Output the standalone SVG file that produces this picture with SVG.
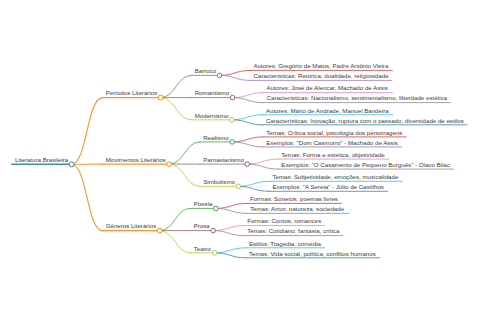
<svg xmlns="http://www.w3.org/2000/svg" width="480" height="320" viewBox="0 0 480 320">
<style>
.t{font-family:"Liberation Sans",Arial,sans-serif;font-size:6.15px;fill:#3c3c3c}
path,line{fill:none;stroke-width:0.85;stroke-linecap:round;stroke-opacity:0.85}
circle{fill:#fff;stroke-width:0.9}
.l1{stroke-width:1.1}
.root{stroke-width:1.5}
.b{stroke:#1f77b4}.o{stroke:#ff7f0e}.g{stroke:#2ca02c}.r{stroke:#d62728}.p{stroke:#9467bd}
.br{stroke:#8c564b}.pk{stroke:#e377c2}.gy{stroke:#7f7f7f}.ol{stroke:#bcbd22}.cy{stroke:#17becf}
</style>
<rect width="480" height="320" fill="#fff"/>
<g id="connectors">
<path class="o l1" d="M71.6,164.3 C87,164.3 87,97.6 102.4,97.6"/>
<path class="o l1" d="M71.6,164.3 C87,164.3 87,164.1 102.4,164.1"/>
<path class="o l1" d="M71.6,164.3 C87,164.3 87,230.6 102.4,230.6"/>
<path class="g" d="M160.6,97.6 C176,97.6 176,75.4 191.4,75.4"/>
<path class="br" d="M160.6,97.6 L191.4,97.6"/>
<path class="ol" d="M160.6,97.6 C176,97.6 176,119.8 191.4,119.8"/>
<path class="g" d="M169.1,164.1 C184.5,164.1 184.5,141.9 199.9,141.9"/>
<path class="br" d="M169.1,164.1 L199.9,164.1"/>
<path class="ol" d="M169.1,164.1 C184.5,164.1 184.5,186.3 199.9,186.3"/>
<path class="g" d="M159.6,230.6 C175,230.6 175,208.4 190.4,208.4"/>
<path class="br" d="M159.6,230.6 L190.4,230.6"/>
<path class="ol" d="M159.6,230.6 C175,230.6 175,252.8 190.4,252.8"/>
<path class="r" d="M219.5,75.4 C234.9,75.4 234.9,70.4 250.3,70.4"/>
<path class="p" d="M219.5,75.4 C234.9,75.4 234.9,80.4 250.3,80.4"/>
<path class="pk" d="M232.5,97.6 C247.9,97.6 247.9,92.6 263.3,92.6"/>
<path class="gy" d="M232.5,97.6 C247.9,97.6 247.9,102.6 263.3,102.6"/>
<path class="cy" d="M231.8,119.8 C247.2,119.8 247.2,114.8 262.6,114.8"/>
<path class="b" d="M231.8,119.8 C247.2,119.8 247.2,124.8 262.6,124.8"/>
<path class="r" d="M232.1,141.9 C247.5,141.9 247.5,136.9 262.9,136.9"/>
<path class="p" d="M232.1,141.9 C247.5,141.9 247.5,146.9 262.9,146.9"/>
<path class="pk" d="M247.2,164.1 C262.6,164.1 262.6,159.1 278,159.1"/>
<path class="gy" d="M247.2,164.1 C262.6,164.1 262.6,169.1 278,169.1"/>
<path class="cy" d="M238.3,186.3 C253.7,186.3 253.7,181.3 269.1,181.3"/>
<path class="b" d="M238.3,186.3 C253.7,186.3 253.7,191.3 269.1,191.3"/>
<path class="r" d="M215.8,208.4 C231.2,208.4 231.2,203.4 246.6,203.4"/>
<path class="p" d="M215.8,208.4 C231.2,208.4 231.2,213.4 246.6,213.4"/>
<path class="pk" d="M213.1,230.6 C228.5,230.6 228.5,225.6 243.9,225.6"/>
<path class="gy" d="M213.1,230.6 C228.5,230.6 228.5,235.6 243.9,235.6"/>
<path class="cy" d="M214.8,252.8 C230.2,252.8 230.2,247.8 245.6,247.8"/>
<path class="b" d="M214.8,252.8 C230.2,252.8 230.2,257.8 245.6,257.8"/>
</g>
<g id="n-root"><line class="b root" x1="11.7" y1="164.3" x2="71.6" y2="164.3"/><circle class="b" cx="71.6" cy="164.3" r="2.5"/><text class="t" x="15" y="162">Literatura Brasileira</text></g>
<g id="n-periodos"><line class="o l1" x1="102.4" y1="97.6" x2="160.6" y2="97.6"/><circle class="o" cx="160.6" cy="97.6" r="2.4"/><text class="t" x="105.7" y="95.3">Períodos Literários</text></g>
<g id="n-movimentos"><line class="o l1" x1="102.4" y1="164.1" x2="169.1" y2="164.1"/><circle class="o" cx="169.1" cy="164.1" r="2.4"/><text class="t" x="105.7" y="161.8">Movimentos Literários</text></g>
<g id="n-generos"><line class="o l1" x1="102.4" y1="230.6" x2="159.6" y2="230.6"/><circle class="o" cx="159.6" cy="230.6" r="2.4"/><text class="t" x="105.7" y="228.3">Gêneros Literários</text></g>
<g id="n-barroco"><line class="g" x1="191.4" y1="75.4" x2="219.5" y2="75.4"/><circle class="g" cx="219.5" cy="75.4" r="2.3"/><text class="t" x="194.7" y="73.1">Barroco</text></g>
<g id="n-romantismo"><line class="br" x1="191.4" y1="97.6" x2="232.5" y2="97.6"/><circle class="br" cx="232.5" cy="97.6" r="2.3"/><text class="t" x="194.7" y="95.3">Romantismo</text></g>
<g id="n-modernismo"><line class="ol" x1="191.4" y1="119.8" x2="231.8" y2="119.8"/><circle class="ol" cx="231.8" cy="119.8" r="2.3"/><text class="t" x="194.7" y="117.5">Modernismo</text></g>
<g id="n-realismo"><line class="g" x1="199.9" y1="141.9" x2="232.1" y2="141.9"/><circle class="g" cx="232.1" cy="141.9" r="2.3"/><text class="t" x="203.2" y="139.6">Realismo</text></g>
<g id="n-parnasianismo"><line class="br" x1="199.9" y1="164.1" x2="247.2" y2="164.1"/><circle class="br" cx="247.2" cy="164.1" r="2.3"/><text class="t" x="203.2" y="161.8">Parnasianismo</text></g>
<g id="n-simbolismo"><line class="ol" x1="199.9" y1="186.3" x2="238.3" y2="186.3"/><circle class="ol" cx="238.3" cy="186.3" r="2.3"/><text class="t" x="203.2" y="184">Simbolismo</text></g>
<g id="n-poesia"><line class="g" x1="190.4" y1="208.4" x2="215.8" y2="208.4"/><circle class="g" cx="215.8" cy="208.4" r="2.3"/><text class="t" x="193.7" y="206.1">Poesia</text></g>
<g id="n-prosa"><line class="br" x1="190.4" y1="230.6" x2="213.1" y2="230.6"/><circle class="br" cx="213.1" cy="230.6" r="2.3"/><text class="t" x="193.7" y="228.3">Prosa</text></g>
<g id="n-teatro"><line class="ol" x1="190.4" y1="252.8" x2="214.8" y2="252.8"/><circle class="ol" cx="214.8" cy="252.8" r="2.3"/><text class="t" x="193.7" y="250.5">Teatro</text></g>
<g id="n-barroco-autores"><line class="r" x1="250.3" y1="70.4" x2="392.3" y2="70.4"/><text class="t" x="253.6" y="68.1">Autores: Gregório de Matos, Padre Antônio Vieira</text></g>
<g id="n-barroco-caract"><line class="p" x1="250.3" y1="80.4" x2="391.9" y2="80.4"/><text class="t" x="253.6" y="78.1">Características: Retórica, dualidade, religiosidade</text></g>
<g id="n-romantismo-autores"><line class="pk" x1="263.3" y1="92.6" x2="392.3" y2="92.6"/><text class="t" x="266.6" y="90.3">Autores: José de Alencar, Machado de Assis</text></g>
<g id="n-romantismo-caract"><line class="gy" x1="263.3" y1="102.6" x2="450.4" y2="102.6"/><text class="t" x="266.6" y="100.3">Características: Nacionalismo, sentimentalismo, liberdade estética</text></g>
<g id="n-modernismo-autores"><line class="cy" x1="262.6" y1="114.8" x2="392.6" y2="114.8"/><text class="t" x="265.9" y="112.5">Autores: Mário de Andrade, Manuel Bandeira</text></g>
<g id="n-modernismo-caract"><line class="b" x1="262.6" y1="124.8" x2="467.1" y2="124.8"/><text class="t" x="265.9" y="122.5">Características: Inovação, ruptura com o passado, diversidade de estilos</text></g>
<g id="n-realismo-temas"><line class="r" x1="262.9" y1="136.9" x2="406.2" y2="136.9"/><text class="t" x="266.2" y="134.6">Temas: Crítica social, psicologia dos personagens</text></g>
<g id="n-realismo-exemplos"><line class="p" x1="262.9" y1="146.9" x2="401.7" y2="146.9"/><text class="t" x="266.2" y="144.6">Exemplos: "Dom Casmurro" - Machado de Assis</text></g>
<g id="n-parnasianismo-temas"><line class="pk" x1="278" y1="159.1" x2="388.8" y2="159.1"/><text class="t" x="281.3" y="156.8">Temas: Forma e estética, objetividade</text></g>
<g id="n-parnasianismo-exemplos"><line class="gy" x1="278" y1="169.1" x2="453.4" y2="169.1"/><text class="t" x="281.3" y="166.8">Exemplos: "O Casamento de Pequeno Burguês" - Olavo Bilac</text></g>
<g id="n-simbolismo-temas"><line class="cy" x1="269.1" y1="181.3" x2="402.5" y2="181.3"/><text class="t" x="272.4" y="179">Temas: Subjetividade, emoções, musicalidade</text></g>
<g id="n-simbolismo-exemplos"><line class="b" x1="269.1" y1="191.3" x2="387.7" y2="191.3"/><text class="t" x="272.4" y="189">Exemplos: "A Sereia" - Júlio de Castilhos</text></g>
<g id="n-poesia-formas"><line class="r" x1="246.6" y1="203.4" x2="341.4" y2="203.4"/><text class="t" x="249.9" y="201.1">Formas: Sonetos, poemas livres</text></g>
<g id="n-poesia-temas"><line class="p" x1="246.6" y1="213.4" x2="348.9" y2="213.4"/><text class="t" x="249.9" y="211.1">Temas: Amor, natureza, sociedade</text></g>
<g id="n-prosa-formas"><line class="pk" x1="243.9" y1="225.6" x2="324.7" y2="225.6"/><text class="t" x="247.2" y="223.3">Formas: Contos, romances</text></g>
<g id="n-prosa-temas"><line class="gy" x1="243.9" y1="235.6" x2="343.1" y2="235.6"/><text class="t" x="247.2" y="233.3">Temas: Cotidiano, fantasia, crítica</text></g>
<g id="n-teatro-estilos"><line class="cy" x1="245.6" y1="247.8" x2="324.7" y2="247.8"/><text class="t" x="248.9" y="245.5">Estilos: Tragédia, comédia</text></g>
<g id="n-teatro-temas"><line class="b" x1="245.6" y1="257.8" x2="379.7" y2="257.8"/><text class="t" x="248.9" y="255.5">Temas: Vida social, política, conflitos humanos</text></g>
</svg>
